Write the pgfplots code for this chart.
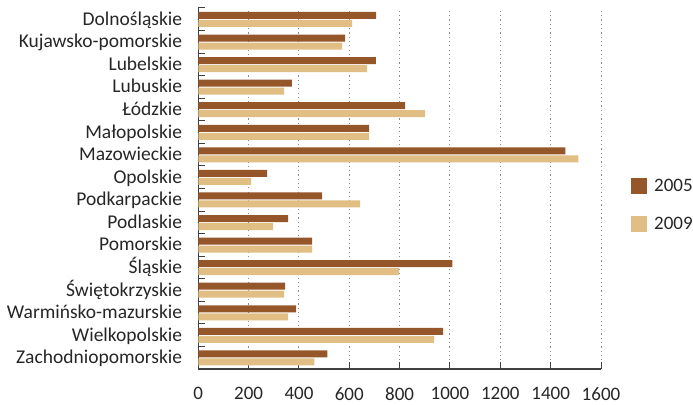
\documentclass[border=0pt]{standalone}
\usepackage{fontspec}
\setmainfont{Carlito}
\usepackage{pgfplots}
\pgfplotsset{compat=1.18}

\definecolor{y2005}{HTML}{95562A}
\definecolor{y2009}{HTML}{E1BE84}
\definecolor{axisgray}{HTML}{404040}
\definecolor{txt}{HTML}{262626}

\begin{document}
\begin{tikzpicture}
\begin{axis}[
    scale only axis,
    width=402.7bp, height=361bp,
    xbar, bar width=7bp,
    xmin=0, xmax=1600,
    ymin=-0.5, ymax=15.5,
    xtick={0,200,...,1600},
    ytick={0,...,15},
    yticklabels={Zachodniopomorskie, Wielkopolskie, Warmińsko-mazurskie,
        Świętokrzyskie, Śląskie, Pomorskie, Podlaskie, Podkarpackie, Opolskie,
        Mazowieckie, Małopolskie, Łódzkie, Lubuskie, Lubelskie,
        Kujawsko-pomorskie, Dolnośląskie},
    minor ytick={-0.5,0.5,...,15.5},
    axis lines*=left,
    axis line style={draw=axisgray, line width=1.2bp},
    tick align=inside,
    major tick length=7bp, minor tick length=7bp,
    tick style={draw=axisgray, line width=1bp},
    major y tick style={draw=none},
    xmajorgrids,
    major x grid style={draw=black!45, line width=1bp, dash pattern=on 1.2bp off 3.1bp},
    /pgf/number format/assume math mode=true,
    x tick label style={/pgf/number format/1000 sep=},
    xticklabel style={font=\fontsize{19bp}{22bp}\selectfont, text=txt,
        inner sep=0pt, yshift=-18bp},
    yticklabel style={font=\fontsize{19.5bp}{22bp}\selectfont, text=txt,
        inner sep=0pt, anchor=base east, xshift=-16bp, yshift=-6bp},
    legend style={at={(1.0745,0.454)}, anchor=west, draw=none, fill=none,
        inner sep=0pt, row sep=22bp, column sep=7bp,
        font=\fontsize{19bp}{22bp}\selectfont, text=txt,
        nodes={inner sep=0pt}},
    legend cell align=left,
    legend image code/.code={\fill[#1] (0bp,-8bp) rectangle (16bp,8bp);},
]
\addplot[draw=none, fill=y2005, bar shift=3.8bp] coordinates {
    (707,15) (583,14) (706,13) (372,12) (822,11) (679,10) (1458,9) (273,8)
    (492,7) (357,6) (452,5) (1009,4) (345,3) (389,2) (973,1) (513,0)};
\addplot[draw=none, fill=y2009, bar shift=-4.2bp] coordinates {
    (611,15) (571,14) (671,13) (341,12) (901,11) (679,10) (1510,9) (210,8)
    (643,7) (297,6) (452,5) (798,4) (341,3) (357,2) (937,1) (461,0)};
\legend{2005, 2009}
\coordinate (O) at (rel axis cs:0,0);
\end{axis}
\pgfresetboundingbox
\path ([shift={(-198.3bp,-36bp)}]O) rectangle ([shift={(494.7bp,369bp)}]O);
\end{tikzpicture}
\end{document}
